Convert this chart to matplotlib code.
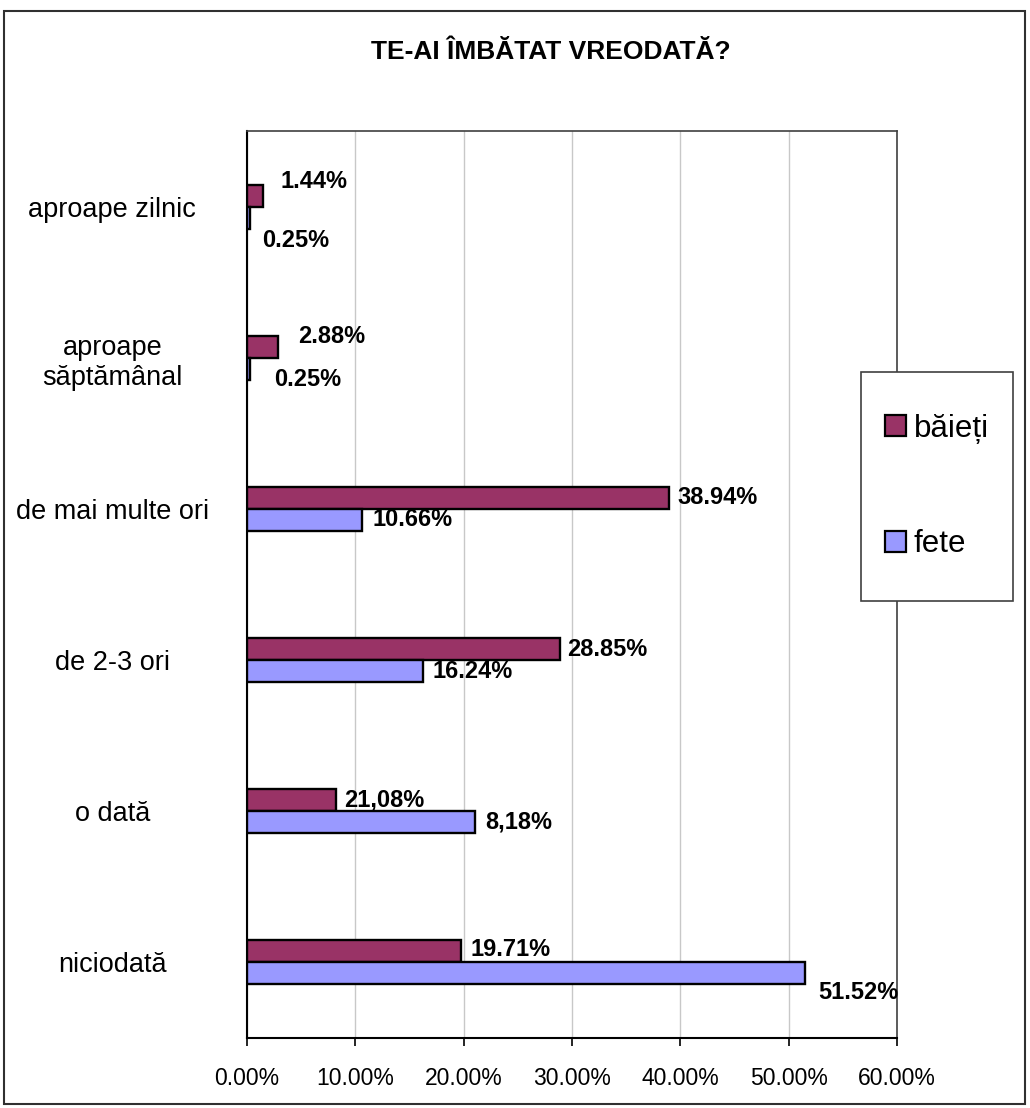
import numpy as np
import matplotlib.pyplot as plt
from matplotlib.patches import Rectangle, Patch

plt.rcParams['font.family'] = ['Liberation Sans', 'DejaVu Sans']

categories = ["aproape zilnic", "aproape\nsăptămânal", "de mai multe ori",
              "de 2-3 ori", "o dată", "niciodată"]
baieti = [1.44, 2.88, 38.94, 28.85, 8.18, 19.71]
fete = [0.25, 0.25, 10.66, 16.24, 21.08, 51.52]
baieti_text = ["1.44%", "2.88%", "38.94%", "28.85%", "21,08%", "19.71%"]
fete_text = ["0.25%", "0.25%", "10.66%", "16.24%", "8,18%", "51.52%"]
xticks = [0, 10, 20, 30, 40, 50, 60]

c_baieti = "#993366"
c_fete = "#9999FF"

# label offsets in pixels (dx, dy), default right of the bar end
off_baieti = [(18, 14), (20, 10), (9, 0), (8, 0), (9, 0), (10, 2)]
off_fete = [(12, -23), (24, -11), (10, 0), (10, 0), (10, 0), (13, -19)]

W, H = 1030, 1108
fig = plt.figure(figsize=(W / 100, H / 100), dpi=100)
ax = fig.add_axes([247 / W, 1 - 1038 / H, (897 - 247) / W, (1038 - 131) / H])

n = len(categories)
y = n - 1 - np.arange(n)
h = 0.146

ax.barh(y + h / 2, baieti, height=h, color=c_baieti, edgecolor="black", linewidth=1.7, zorder=3)
ax.barh(y - h / 2, fete, height=h, color=c_fete, edgecolor="black", linewidth=1.7, zorder=3)

px = 0.72
for i in range(n):
    dx, dy = off_baieti[i]
    ax.annotate(baieti_text[i], (baieti[i], y[i] + h / 2), xytext=(dx * px, dy * px),
                textcoords="offset points", ha="left", va="center",
                fontsize=17, fontweight="bold", zorder=4)
    dx, dy = off_fete[i]
    ax.annotate(fete_text[i], (fete[i], y[i] - h / 2), xytext=(dx * px, dy * px),
                textcoords="offset points", ha="left", va="center",
                fontsize=17, fontweight="bold", zorder=4)

ax.set_xlim(0, 60)
ax.set_ylim(-0.5, n - 0.5)
ax.set_xticks(xticks)
ax.set_xticklabels([f"{v:.2f}%" for v in xticks], fontsize=16.5)
ax.tick_params(axis="x", direction="out", length=6, width=1.2, pad=15)
ax.set_yticks(y)
ax.set_yticklabels(categories, fontsize=19.5, ha="center", multialignment="center")
ax.tick_params(axis="y", length=0, pad=97)
ax.grid(axis="x", color="#c8c8c8", linewidth=1, zorder=0)
ax.set_axisbelow(True)

for s in ["top", "right"]:
    ax.spines[s].set_color("#404040")
    ax.spines[s].set_linewidth(1.2)
for s in ["left", "bottom"]:
    ax.spines[s].set_color("black")
    ax.spines[s].set_linewidth(1.5)

fig.text(551 / W, 1 - 52 / H, "TE-AI ÎMBĂTAT VREODATĂ?", ha="center", va="center",
         fontsize=19, fontweight="bold")

# outer chart frame
fig.patches.append(Rectangle((4 / W, 1 - 1104 / H), (1025 - 4) / W, (1104 - 11) / H,
                             transform=fig.transFigure, fill=False,
                             edgecolor="#303030", linewidth=1.5))

# legend box
lx0, lx1, ly0, ly1 = 861, 1013, 372, 601
fig.patches.append(Rectangle((lx0 / W, 1 - ly1 / H), (lx1 - lx0) / W, (ly1 - ly0) / H,
                             transform=fig.transFigure, facecolor="white",
                             edgecolor="#404040", linewidth=1.2, zorder=5))
handles = [Patch(facecolor=c_baieti, edgecolor="black", linewidth=1.6, label="băieți"),
           Patch(facecolor=c_fete, edgecolor="black", linewidth=1.6, label="fete")]
leg = fig.legend(handles=handles, loc="center",
                 bbox_to_anchor=((lx0 + lx1) / 2 / W, 1 - (ly0 + ly1) / 2 / H),
                 frameon=False, fontsize=22.5, handlelength=0.65, handleheight=0.65,
                 handletextpad=0.25, labelspacing=2.75)
leg.set_zorder(6)

fig.savefig("out.png", dpi=100)
